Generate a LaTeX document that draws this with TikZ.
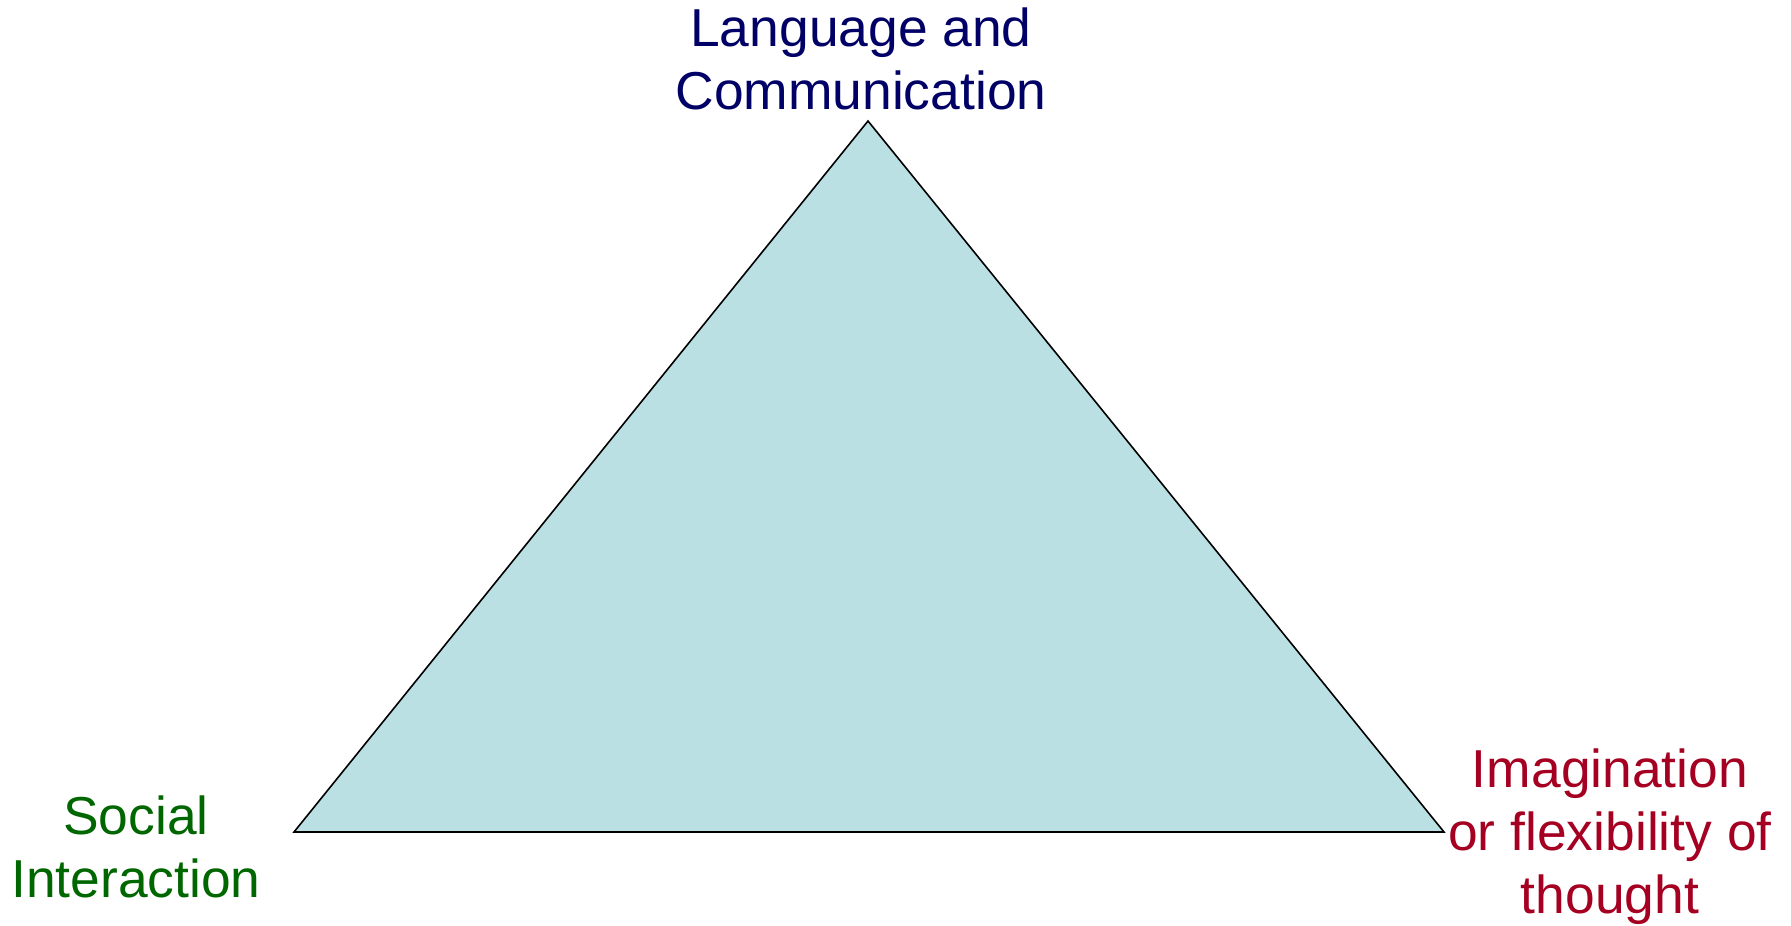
\documentclass[tikz,border=0pt]{standalone}
\usepackage{fontspec}
\setmainfont{Liberation Sans}
\usetikzlibrary{positioning}
\definecolor{cL}{HTML}{000066}
\definecolor{cS}{HTML}{006600}
\definecolor{cI}{HTML}{A50021}
\definecolor{cF}{HTML}{BBE0E3}
\tikzset{lbl/.style={font=\fontsize{26.7}{31.5}\selectfont,align=center,anchor=base,inner sep=0pt}}
\begin{document}
\begin{tikzpicture}[x=0.5pt,y=-0.5pt]
  \useasboundingbox (0,0) rectangle (1791,925);
  \coordinate (top) at (868,121);
  \coordinate (left) at (294,832);
  \coordinate (right) at (1444,832);
  \filldraw[fill=cF,draw=black,line width=0.8pt,line join=miter] (top) -- (left) -- (right) -- cycle;
  % base anchor sits on the last line
  \node[lbl,text=cL] (lang) at (861,110){Language and\\Communication};
  \node[lbl,text=cS] (soc) at (136,897){Social\\Interaction};
  \node[lbl,text=cI] (imag) at (1610,913){Imagination\\or flexibility of\\thought};
\end{tikzpicture}
\end{document}
